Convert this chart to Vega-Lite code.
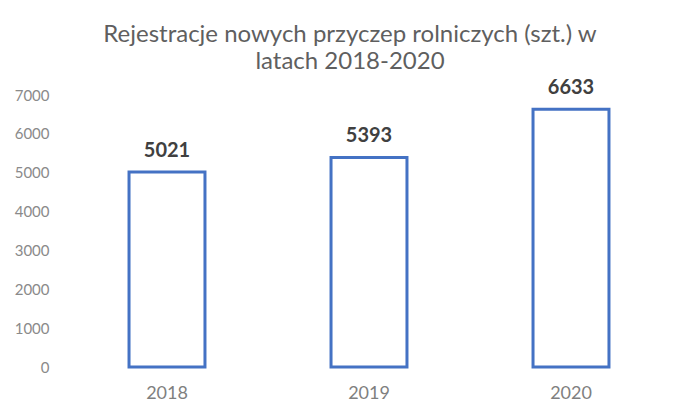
{
  "$schema": "https://vega.github.io/schema/vega-lite/v6.json",
  "width": 606,
  "height": 272,
  "autosize": {"type": "none"},
  "padding": {"left": 66, "top": 95, "right": 28, "bottom": 53},
  "background": "white",
  "config": {
    "font": "Lato",
    "view": {"stroke": null}
  },
  "title": {
    "text": ["Rejestracje nowych przyczep rolniczych (szt.) w", "latach 2018-2020"],
    "fontSize": 24,
    "fontWeight": "normal",
    "color": "#5f5f5f",
    "lineHeight": 27,
    "anchor": "middle",
    "dx": -19,
    "offset": 4
  },
  "data": {
    "values": [
      {"year": "2018", "count": 5021},
      {"year": "2019", "count": 5393},
      {"year": "2020", "count": 6633}
    ]
  },
  "encoding": {
    "x": {
      "field": "year",
      "type": "nominal",
      "sort": null,
      "scale": {"paddingInner": 0.624, "paddingOuter": 0.312},
      "axis": {
        "title": null,
        "labelAngle": 0,
        "domain": false,
        "ticks": false,
        "labelFontSize": 18,
        "labelColor": "#7f7f7f",
        "labelPadding": 17
      }
    },
    "y": {
      "field": "count",
      "type": "quantitative",
      "scale": {"domain": [0, 7000], "nice": false},
      "axis": {
        "title": null,
        "values": [0, 1000, 2000, 3000, 4000, 5000, 6000, 7000],
        "format": "d",
        "domain": false,
        "ticks": false,
        "grid": false,
        "labelFontSize": 15,
        "labelColor": "#8a8a8a",
        "labelPadding": 17
      }
    }
  },
  "layer": [
    {
      "mark": {"type": "bar", "fill": "white", "stroke": "#4472C4", "strokeWidth": 3}
    },
    {
      "mark": {"type": "text", "baseline": "alphabetic", "dy": -15, "fontSize": 20, "fontWeight": "bold", "color": "#404040"},
      "encoding": {"text": {"field": "count", "type": "quantitative", "format": "d"}}
    }
  ]
}
